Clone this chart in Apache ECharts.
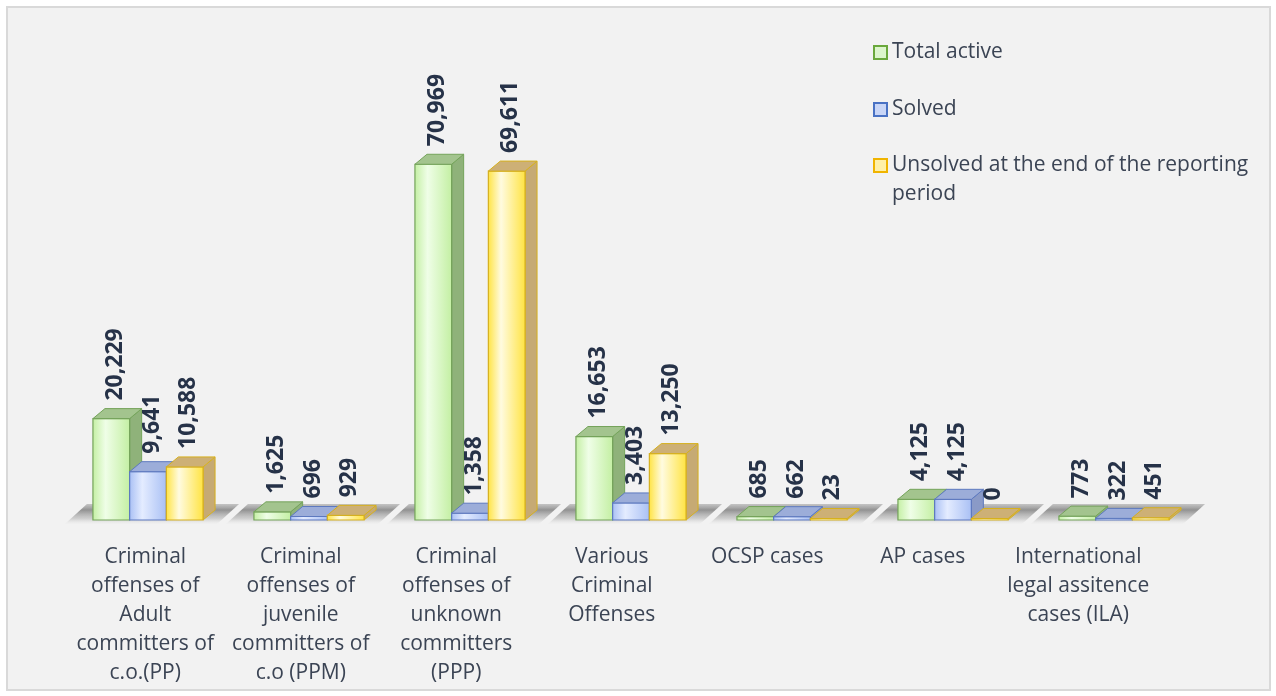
<!DOCTYPE html>
<html>
<head>
<meta charset="utf-8">
<script src="https://cdn.jsdelivr.net/npm/echarts@6/dist/echarts.min.js"></script>
<style>
  html, body { margin: 0; padding: 0; background: #fff; }
  #frame {
    position: absolute; left: 6px; top: 6px; width: 1265px; height: 685px;
    box-sizing: border-box; border: 2px solid #d9d9d9; background: #f2f2f2;
  }
  #chart { width: 100%; height: 100%; }
</style>
</head>
<body>
<div id="frame"><div id="chart"></div></div>
<script>
// categories as shown under the bars (line breaks as in the picture)
const categories = [
  'Criminal\noffenses of\nAdult\ncommitters of\nc.o.(PP)',
  'Criminal\noffenses of\njuvenile\ncommitters of\nc.o (PPM)',
  'Criminal\noffenses of\nunknown\ncommitters\n(PPP)',
  'Various\nCriminal\nOffenses',
  'OCSP cases',
  'AP cases',
  'International\nlegal assitence\ncases (ILA)'
]
const seriesNames = ['Total active', 'Solved', 'Unsolved at the end of the reporting period']
const totalActive = [20229, 1625, 70969, 16653, 685, 4125, 773]
const solved = [9641, 696, 1358, 3403, 662, 4125, 322]
const unsolved = [10588, 929, 69611, 13250, 23, 0, 451]

const palette = [
  { front: ['#effee7', '#c3efa2'], border: '#74a35a', top: '#a3c48e', side: '#8fb27a', icon: '#dcf5cc', iconBorder: '#6aa83c' },
  { front: ['#e4ecff', '#a8bff4'], border: '#5d79bf', top: '#9cadd9', side: '#8a9ac7', icon: '#c9d6f7', iconBorder: '#4a72c4' },
  { front: ['#fffbe0', '#ffe340'], border: '#d6b01e', top: '#cdb076', side: '#c6aa74', icon: '#fff0a8', iconBorder: '#f0b400' }
]
const DX = 12
const DY = 10
const BAR_RATIO = 0.228
const labelColor = '#263248'
const textColor = '#3b4454'
const fontFamily = '"Open Sans", "Noto Sans", sans-serif'

const chart = echarts.init(document.getElementById('chart'))

function barRenderer(si) {
  const c = palette[si]
  return function (params, api) {
    const ci = api.value(0)
    const v = api.value(1)
    const base = api.coord([ci, 0])
    const topP = api.coord([ci, v])
    const band = api.size([1, 0])[0]
    const w = band * BAR_RATIO
    const x0 = base[0] - 1.5 * w + si * w
    const x1 = x0 + w
    const yb = base[1]
    const yt = Math.min(topP[1], yb - 1.5)
    return {
      type: 'group',
      children: [
        {
          type: 'polygon',
          shape: { points: [[x1, yt], [x1, yb], [x1 + DX, yb - DY], [x1 + DX, yt - DY]] },
          style: { fill: c.side, stroke: c.border, lineWidth: 1 }
        },
        {
          type: 'rect',
          shape: { x: x0, y: yt, width: w, height: yb - yt },
          style: {
            fill: new echarts.graphic.LinearGradient(0, 0, 1, 0, [
              { offset: 0, color: c.front[1] },
              { offset: 0.35, color: c.front[0] },
              { offset: 1, color: c.front[1] }
            ]),
            stroke: c.border,
            lineWidth: 1.2
          }
        },
        {
          type: 'polygon',
          shape: { points: [[x0, yt], [x1, yt], [x1 + DX, yt - DY], [x0 + DX, yt - DY]] },
          style: { fill: c.top, stroke: c.border, lineWidth: 1 }
        },
        {
          type: 'text',
          x: x0 + w / 2 + 4,
          y: yt - DY - 8,
          rotation: Math.PI / 2,
          style: {
            text: echarts.format.addCommas(v),
            fill: labelColor,
            font: 'bold 23px ' + fontFamily,
            align: 'left',
            verticalAlign: 'middle'
          }
        }
      ]
    }
  }
}

// grey floor shadow under each group of bars
function floorRenderer(params, api) {
  const ci = api.value(0)
  const base = api.coord([ci, 0])
  const band = api.size([1, 0])[0]
  const w = band * BAR_RATIO
  const gl = base[0] - 1.5 * w
  const gr = base[0] + 1.5 * w
  const yb = base[1]
  return {
    type: 'polygon',
    shape: { points: [[gl - 28, yb + 4], [gr + 14, yb + 4], [gr + 36, yb - 16], [gl - 6, yb - 16]] },
    style: {
      fill: new echarts.graphic.LinearGradient(0, 0, 0, 1, [
        { offset: 0, color: 'rgba(140,140,140,0.45)' },
        { offset: 0.3, color: 'rgba(105,105,105,0.7)' },
        { offset: 0.75, color: 'rgba(170,170,170,0.45)' },
        { offset: 1, color: 'rgba(235,235,235,0.1)' }
      ])
    }
  }
}

const values = [totalActive, solved, unsolved]

const option = {
  backgroundColor: 'transparent',
  animation: false,
  textStyle: { fontFamily: fontFamily },
  legend: [
    {
      orient: 'vertical',
      left: 865,
      top: 30,
      padding: 0,
      itemWidth: 13,
      itemHeight: 13,
      itemGap: 28,
      icon: 'rect',
      textStyle: { color: textColor, fontSize: 21, lineHeight: 29 },
      data: [0, 1].map(i => ({
        name: seriesNames[i],
        itemStyle: { color: palette[i].icon, borderColor: palette[i].iconBorder, borderWidth: 2 }
      }))
    },
    {
      orient: 'vertical',
      left: 865,
      top: 114,
      padding: 0,
      itemWidth: 13,
      itemHeight: 13,
      icon: 'rect',
      formatter: name => '\n' + name.replace(' period', '\nperiod'),
      textStyle: { color: textColor, fontSize: 21, lineHeight: 29 },
      data: [{
        name: seriesNames[2],
        itemStyle: { color: palette[2].icon, borderColor: palette[2].iconBorder, borderWidth: 2 }
      }]
    }
  ],
  grid: [
    { left: 59.5, right: 74.5, top: 111, bottom: 169 },
    { left: 59.5, right: 113, top: 111, bottom: 169 }
  ],
  xAxis: [
    {
      type: 'category',
      gridIndex: 0,
      data: categories,
      axisLine: { show: false },
      axisTick: { show: false },
      axisLabel: { show: false }
    },
    {
      type: 'category',
      gridIndex: 1,
      data: categories,
      axisLine: { show: false },
      axisTick: { show: false },
      axisLabel: { color: textColor, fontSize: 21, lineHeight: 29, margin: 23, interval: 0 }
    }
  ],
  yAxis: [
    { type: 'value', gridIndex: 0, min: 0, max: 80000, show: false },
    { type: 'value', gridIndex: 1, min: 0, max: 80000, show: false }
  ],
  series: [
    {
      type: 'custom',
      name: 'floor',
      z: 1,
      silent: true,
      renderItem: floorRenderer,
      data: categories.map((c, i) => [i, 0])
    }
  ].concat(values.map((arr, si) => ({
    type: 'custom',
    name: seriesNames[si],
    z: 2,
    itemStyle: { color: palette[si].icon, borderColor: palette[si].iconBorder },
    renderItem: barRenderer(si),
    encode: { x: 0, y: 1 },
    data: arr.map((v, i) => [i, v])
  })))
}

chart.setOption(option)
</script>
</body>
</html>
